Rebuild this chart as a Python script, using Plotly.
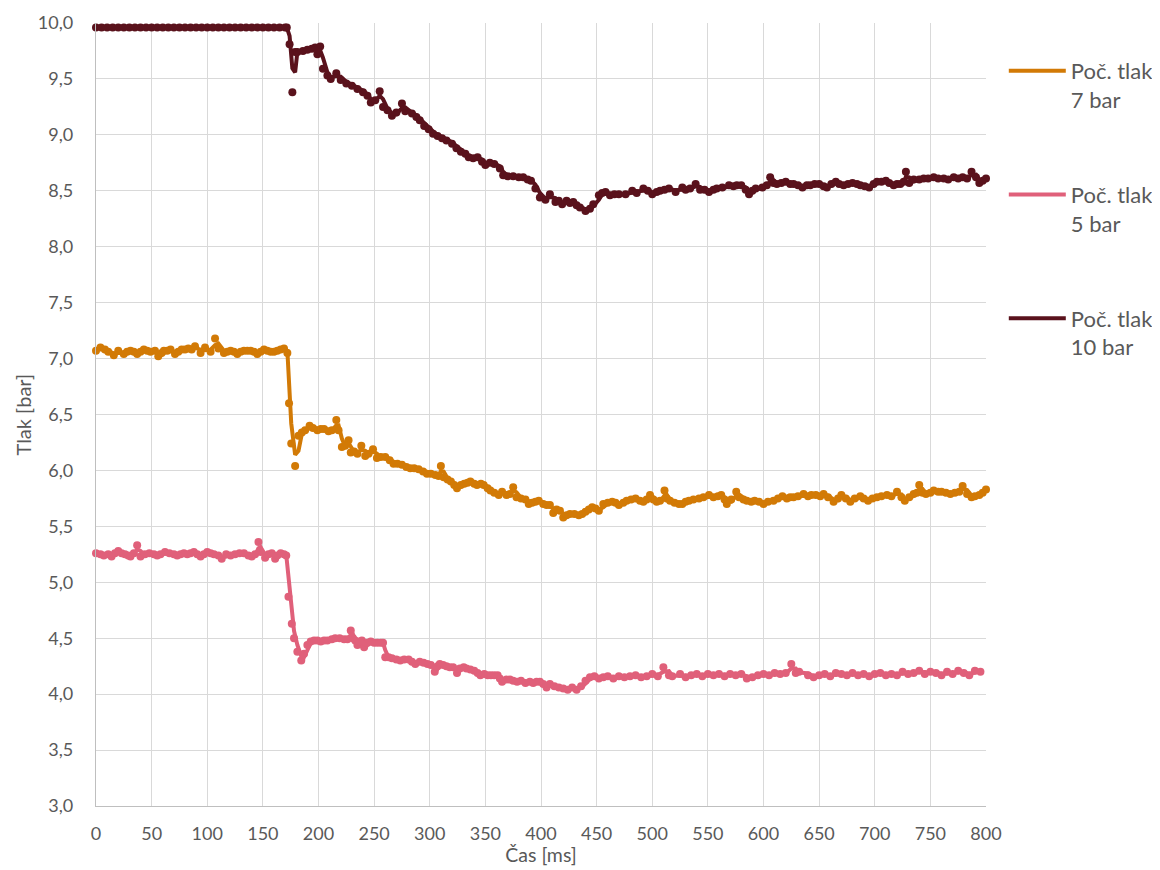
import plotly.graph_objects as go

# ---------------- data ----------------
t_10 = [0, 5, 10, 15, 20, 25, 30, 35, 40, 45, 50, 55, 60, 65, 70, 75, 80, 85, 90, 95,
        100, 105, 110, 115, 120, 125, 130, 135, 140, 145, 150, 155, 160, 165, 170,
        171.5, 174, 176.5, 179, 181, 186, 190, 194, 197, 199, 201.5, 204, 208, 211, 216,
        220, 225, 230, 235, 240, 244, 247, 251, 255, 258, 262, 266, 270, 275, 278, 284,
        288, 291, 295, 299, 303, 307, 311, 315, 320, 324, 328, 332, 335, 339, 343, 347,
        350, 354, 358, 363, 366, 370, 375, 380, 384, 388, 391, 395, 399, 404, 408, 413,
        416, 419, 423, 426, 429, 432, 435, 440, 444, 447, 452, 455, 458, 462, 466, 470,
        476, 482, 486, 492, 496, 500, 504, 507, 511, 515, 521, 527, 530, 534, 539, 543,
        547, 551, 555, 558, 563, 569, 573, 576, 580, 584, 587, 590, 593, 599, 603, 606,
        609, 612, 616, 620, 624, 627, 631, 635, 639, 642, 646, 650, 654, 657, 661, 665,
        668, 672, 676, 680, 684, 687, 691, 695, 699, 702, 706, 710, 713, 717, 720, 723,
        726, 728, 731, 735, 740, 744, 748, 753, 757, 762, 766, 771, 775, 779, 783, 787,
        791, 794, 797, 800]
p_10 = [9.96, 9.96, 9.96, 9.96, 9.96, 9.96, 9.96, 9.96, 9.96, 9.96, 9.96, 9.96, 9.96, 9.96,
        9.96, 9.96, 9.96, 9.96, 9.96, 9.96, 9.96, 9.96, 9.96, 9.96, 9.96, 9.96, 9.96, 9.96,
        9.96, 9.96, 9.96, 9.96, 9.96, 9.96, 9.96,
        9.96, 9.81, 9.38, 9.74, 9.74, 9.75, 9.76, 9.77, 9.78, 9.72, 9.79, 9.59, 9.53, 9.50, 9.55,
        9.49, 9.46, 9.44, 9.41, 9.38, 9.35, 9.29, 9.31, 9.39, 9.25, 9.22, 9.17, 9.20, 9.28, 9.21, 9.19,
        9.16, 9.13, 9.08, 9.05, 9.01, 8.99, 8.97, 8.95, 8.92, 8.88, 8.85, 8.83, 8.80, 8.79, 8.80, 8.76,
        8.73, 8.75, 8.74, 8.70, 8.64, 8.63, 8.63, 8.62, 8.62, 8.60, 8.59, 8.52, 8.44, 8.42, 8.47, 8.40,
        8.41, 8.38, 8.41, 8.39, 8.40, 8.37, 8.35, 8.32, 8.34, 8.38, 8.46, 8.48, 8.49, 8.46, 8.47, 8.47,
        8.47, 8.50, 8.48, 8.52, 8.50, 8.47, 8.49, 8.50, 8.51, 8.52, 8.49, 8.53, 8.51, 8.52, 8.56, 8.51,
        8.51, 8.49, 8.51, 8.52, 8.53, 8.55, 8.54, 8.55, 8.55, 8.51, 8.47, 8.50, 8.52, 8.53, 8.55, 8.62,
        8.57, 8.56, 8.57, 8.58, 8.56, 8.56, 8.55, 8.53, 8.55, 8.55, 8.56, 8.56, 8.54, 8.53, 8.56, 8.58,
        8.56, 8.55, 8.56, 8.57, 8.56, 8.55, 8.54, 8.53, 8.56, 8.58, 8.58, 8.59, 8.57, 8.55, 8.56, 8.56,
        8.58, 8.67, 8.57, 8.60, 8.60, 8.61, 8.61, 8.62, 8.61, 8.61, 8.60, 8.62, 8.61, 8.62, 8.61, 8.67,
        8.62, 8.57, 8.59, 8.61]

t_7 = [0, 4, 8, 11, 16, 20, 25, 28, 31, 34, 37, 40, 43, 46, 49, 53, 56, 59, 61, 64, 67, 71, 74,
       77, 80, 83, 86, 89, 94, 98, 103, 107, 110, 115, 118, 121, 124, 127, 130, 133, 136, 139,
       142, 145, 148, 151, 154, 157, 160, 163, 166, 169, 172, 173.5, 175.5, 179, 182, 185, 188,
       192, 195, 199, 202, 205, 209, 212, 216, 218, 221, 224, 227, 229, 232, 235, 238.5, 242,
       245, 249, 252.5, 256, 260, 264, 267.5, 271, 275, 279, 282.5, 286, 290, 294, 297.5, 301,
       305, 308, 310, 312.5, 316, 319, 322, 324.5, 328, 331, 334, 336.5, 340, 342.5, 346, 348.5,
       352, 354.5, 358, 362, 365, 369, 372, 375, 378, 382, 386, 389, 392, 395, 398, 402, 405,
       408, 411, 414, 417, 420, 423, 426, 430, 434, 437, 440, 443, 446, 449, 452, 456, 460, 464,
       467, 470, 474, 477, 481, 485, 489, 492, 495, 498, 501, 504, 507, 511, 513, 516, 520, 524,
       527, 530, 533, 537, 542, 546, 551, 555, 559, 562, 565, 567, 571, 575.5, 578, 582, 585,
       589, 592, 596, 600, 604, 609, 613, 617, 621, 624, 627, 631, 636, 640, 643, 647, 651, 654,
       658, 663, 667, 670, 674, 678, 682, 687, 690, 694, 698, 702, 706, 711, 715, 720, 724, 727,
       731, 735, 738, 740, 743, 746, 750, 753, 757, 760, 764, 768, 772, 776, 779, 783, 787, 790,
       794, 797, 800]
p_7 = [7.07, 7.10, 7.08, 7.06, 7.03, 7.07, 7.04, 7.06, 7.07, 7.06, 7.04, 7.06, 7.08, 7.07, 7.06,
       7.07, 7.02, 7.05, 7.07, 7.07, 7.08, 7.04, 7.06, 7.08, 7.08, 7.09, 7.08, 7.11, 7.05, 7.10,
       7.06, 7.18, 7.09, 7.05, 7.06, 7.07, 7.06, 7.04, 7.06, 7.07, 7.07, 7.07, 7.06, 7.04, 7.06,
       7.08, 7.07, 7.06, 7.06, 7.07, 7.08, 7.09, 7.05, 6.60, 6.24, 6.04, 6.31, 6.34, 6.36, 6.40,
       6.38, 6.36, 6.37, 6.37, 6.35, 6.36, 6.45, 6.36, 6.21, 6.22, 6.27, 6.16, 6.17, 6.15, 6.22,
       6.13, 6.15, 6.19, 6.11, 6.12, 6.12, 6.09, 6.06, 6.06, 6.05, 6.03, 6.02, 6.02, 6.01, 5.99,
       5.97, 5.97, 5.96, 5.95, 6.04, 5.94, 5.92, 5.90, 5.87, 5.84, 5.87, 5.88, 5.89, 5.90, 5.88,
       5.87, 5.88, 5.87, 5.84, 5.82, 5.80, 5.78, 5.81, 5.78, 5.79, 5.85, 5.76, 5.75, 5.74, 5.70,
       5.71, 5.72, 5.73, 5.70, 5.69, 5.69, 5.62, 5.65, 5.64, 5.58, 5.60, 5.61, 5.61, 5.60, 5.61,
       5.63, 5.65, 5.67, 5.66, 5.64, 5.70, 5.71, 5.72, 5.71, 5.69, 5.71, 5.73, 5.74, 5.75, 5.73,
       5.72, 5.74, 5.78, 5.74, 5.72, 5.73, 5.82, 5.75, 5.73, 5.71, 5.70, 5.70, 5.72, 5.73, 5.74,
       5.75, 5.76, 5.78, 5.76, 5.77, 5.78, 5.74, 5.70, 5.74, 5.81, 5.76, 5.74, 5.73, 5.72, 5.73,
       5.72, 5.70, 5.72, 5.73, 5.75, 5.77, 5.75, 5.76, 5.76, 5.77, 5.79, 5.77, 5.78, 5.78, 5.77,
       5.79, 5.76, 5.72, 5.75, 5.78, 5.75, 5.72, 5.75, 5.77, 5.75, 5.73, 5.75, 5.76, 5.77, 5.78,
       5.77, 5.81, 5.76, 5.73, 5.76, 5.79, 5.80, 5.87, 5.80, 5.79, 5.80, 5.82, 5.81, 5.81, 5.80,
       5.79, 5.80, 5.81, 5.86, 5.79, 5.76, 5.77, 5.78, 5.80, 5.83]

t_5 = [0, 4, 7, 11, 14, 17, 20, 23, 26, 29, 31, 34, 37, 40, 44, 48, 52, 55, 58, 62, 66, 70, 73,
       76, 79, 82, 85, 88, 91, 94, 97, 100, 103, 106, 110, 113, 117, 121, 125, 129, 133, 137,
       140, 143, 146, 148, 152, 155, 158, 161, 163, 166, 169, 171, 173, 176, 178, 181, 184.5,
       187, 190, 193, 196, 199, 202, 205, 208, 212, 215, 219, 223, 226, 229, 231, 233, 235, 237,
       239, 241, 244, 247, 250, 253, 256, 258, 260, 263, 266, 270, 273.5, 277, 281, 284, 287,
       291, 294.5, 298, 301, 304.5, 307, 309, 312, 315, 318, 321, 324.5, 327, 330.5, 333, 336.5,
       340, 343, 345.5, 349, 352, 355, 358, 361, 363, 365, 369, 372, 375, 378.5, 382, 386, 390,
       393, 396, 399, 402, 405, 408, 412, 416, 420, 424, 428, 432, 436, 440, 444, 448, 452, 456,
       460, 465, 470, 475, 480, 485, 490, 495, 500, 505, 510, 515, 518, 525, 530, 535, 540, 545,
       550, 555, 560, 565, 570, 575, 580, 585, 590, 595, 600, 605, 610, 615, 620, 625, 629, 632,
       640, 645, 650, 655, 660, 665, 670, 675, 680, 685, 690, 695, 700, 705, 710, 715, 720, 725,
       730, 735, 740, 745, 750, 755, 760, 765, 770, 775, 780, 785, 790, 795, 800]
p_5 = [5.26, 5.25, 5.24, 5.25, 5.23, 5.26, 5.28, 5.26, 5.25, 5.24, 5.23, 5.26, 5.33, 5.23, 5.25,
       5.26, 5.25, 5.24, 5.25, 5.27, 5.26, 5.25, 5.24, 5.25, 5.26, 5.25, 5.26, 5.27, 5.25, 5.23,
       5.25, 5.27, 5.26, 5.25, 5.24, 5.21, 5.25, 5.24, 5.25, 5.26, 5.26, 5.24, 5.23, 5.25, 5.36,
       5.27, 5.22, 5.25, 5.26, 5.21, 5.24, 5.26, 5.25, 5.24, 4.87, 4.63, 4.50, 4.38, 4.30, 4.36,
       4.44, 4.47, 4.48, 4.48, 4.47, 4.48, 4.48, 4.49, 4.50, 4.50, 4.49, 4.49, 4.57, 4.50, 4.48,
       4.44, 4.47, 4.48, 4.42, 4.46, 4.47, 4.46, 4.46, 4.46, 4.46, 4.33, 4.33, 4.32, 4.31, 4.30,
       4.31, 4.31, 4.29, 4.27, 4.29, 4.28, 4.27, 4.26, 4.20, 4.25, 4.27, 4.26, 4.25, 4.24, 4.24,
       4.19, 4.23, 4.24, 4.23, 4.22, 4.21, 4.19, 4.17, 4.18, 4.17, 4.17, 4.17, 4.17, 4.14, 4.11,
       4.13, 4.13, 4.12, 4.11, 4.12, 4.10, 4.11, 4.10, 4.11, 4.11, 4.09, 4.06, 4.09, 4.07, 4.06,
       4.05, 4.04, 4.06, 4.04, 4.07, 4.12, 4.15, 4.16, 4.14, 4.15, 4.16, 4.14, 4.16, 4.15, 4.16,
       4.17, 4.15, 4.16, 4.18, 4.16, 4.24, 4.17, 4.16, 4.18, 4.15, 4.17, 4.18, 4.16, 4.18, 4.17,
       4.18, 4.16, 4.18, 4.17, 4.18, 4.14, 4.15, 4.17, 4.18, 4.17, 4.19, 4.18, 4.19, 4.27, 4.19,
       4.20, 4.17, 4.15, 4.17, 4.18, 4.16, 4.19, 4.18, 4.17, 4.19, 4.17, 4.18, 4.16, 4.18, 4.19,
       4.17, 4.18, 4.17, 4.20, 4.18, 4.19, 4.21, 4.18, 4.20, 4.19, 4.17, 4.20, 4.18, 4.21, 4.19,
       4.17, 4.21, 4.20]

names = ["Poč. tlak<br>7 bar", "Poč. tlak<br>5 bar", "Poč. tlak<br>10 bar"]
colors = ["#D27A06", "#E0607A", "#5A121C"]
series_t = [t_7, t_5, t_10]
series_p = [p_7, p_5, p_10]

x_ticks = list(range(0, 801, 50))
y_ticks = [3.0, 3.5, 4.0, 4.5, 5.0, 5.5, 6.0, 6.5, 7.0, 7.5, 8.0, 8.5, 9.0, 9.5, 10.0]

TXT = "#595959"
FONT = "Lato, 'Open Sans', sans-serif"


def moving_avg2(xs, ys):
    """Excel-style 2-period moving-average trendline of the measured points."""
    return xs[1:], [(ys[i - 1] + ys[i]) / 2 for i in range(1, len(ys))]


fig = go.Figure()
for i, (name, col, tt, pp) in enumerate(zip(names, colors, series_t, series_p)):
    fig.add_trace(go.Scatter(x=tt, y=pp, mode="markers", marker=dict(color=col, size=8),
                             showlegend=False, cliponaxis=False, hoverinfo="skip"))
    lx, ly = moving_avg2(tt, pp)
    fig.add_trace(go.Scatter(x=lx, y=ly, mode="lines", name=name, legendgroup=f"g{i}",
                             line=dict(color=col, width=4), cliponaxis=False))

fig.update_layout(
    width=1150, height=858,
    margin=dict(l=88, r=172, t=14.5, b=60, autoexpand=False),
    paper_bgcolor="white", plot_bgcolor="white",
    separators=", ",
    font=dict(family=FONT, size=18, color=TXT),
    legend=dict(x=1.020, xanchor="left", y=0.9655, yanchor="top",
                traceorder="grouped", tracegroupgap=63.5, valign="top",
                itemwidth=57, font=dict(size=22, color=TXT)),
    annotations=[dict(text="Tlak [bar]", xref="paper", yref="paper", x=0, y=0.5,
                      xanchor="center", yanchor="middle", xshift=-74, textangle=-90,
                      showarrow=False, font=dict(size=20, color=TXT))],
)
fig.update_xaxes(range=[0, 800], tickvals=x_ticks, showgrid=True, gridcolor="#D9D9D9",
                 gridwidth=1.3, showline=True, linecolor="#BFBFBF", linewidth=1.3,
                 zeroline=False, ticks="outside", ticklen=11, tickcolor="rgba(0,0,0,0)",
                 tickfont=dict(size=18, color=TXT), automargin=False,
                 ticklabeloverflow="allow",
                 title=dict(text="Čas [ms]", standoff=5, font=dict(size=19.5, color=TXT)))
fig.update_yaxes(range=[3, 10], tickvals=y_ticks, tickformat=".1f", showgrid=True,
                 gridcolor="#D9D9D9", gridwidth=1.3, showline=True, linecolor="#BFBFBF",
                 linewidth=1.3, zeroline=False, ticks="outside", ticklen=18,
                 tickcolor="rgba(0,0,0,0)", tickfont=dict(size=18, color=TXT),
                 automargin=False, ticklabeloverflow="allow")

fig.write_html("out.html")
